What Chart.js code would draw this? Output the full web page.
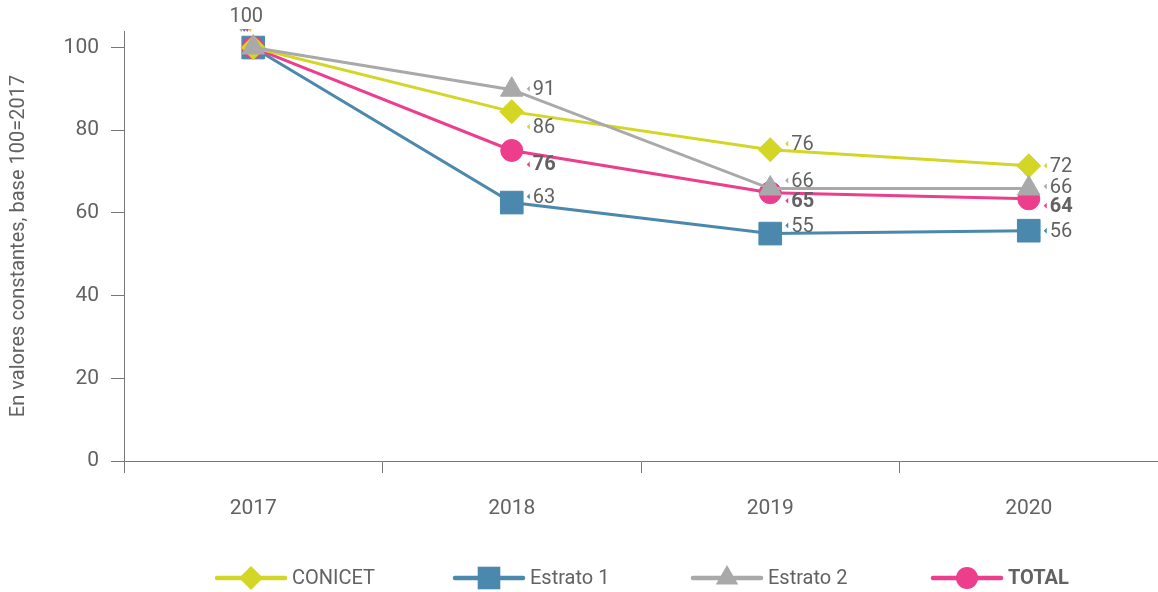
<!DOCTYPE html>
<html><head><meta charset="utf-8">
<script src="https://cdn.jsdelivr.net/npm/chart.js@4/dist/chart.umd.min.js"></script>
<style>html,body{margin:0;padding:0;background:#fff;} #wrap{width:1158px;height:592px;position:relative;}</style>
</head><body><div id="wrap"><canvas id="c" width="1158" height="592"></canvas></div>
<script>
const categories = ['2017', '2018', '2019', '2020'];
const conicet = [100, 84.5, 75.3, 71.4];
const estrato1 = [100, 62.5, 55.0, 55.7];
const estrato2 = [100, 89.8, 65.9, 65.9];
const total = [100, 75.1, 64.9, 63.4];
const conicetLabels = ['100', '86', '76', '72'];
const estrato1Labels = ['100', '63', '55', '56'];
const estrato2Labels = ['100', '91', '66', '66'];
const totalLabels = ['100', '76', '65', '64'];
const yTicks = [0, 20, 40, 60, 80, 100];
const yTitle = 'En valores constantes, base 100=2017';
const seriesNames = ['CONICET', 'Estrato 1', 'Estrato 2', 'TOTAL'];

const FONT = 'Roboto, "DejaVu Sans", sans-serif';
const TEXT = '#626262';
const AXIS = '#777';
const W = '400';
const colors = ['#d3d624', '#4a88ad', '#a9a9a9', '#ec3e8c'];
const pointStyles = ['rectRot', 'rect', 'triangle', 'circle'];
const pointRadii = [12, 16, 13, 11];
const drawOrder = [1, 3, 0, 2];
const labelOffsets = [[0, 15, -6, 0], [0, -6, -8, 0], [0, -1, -8, -2], [0, 14, 8, 7]];
const labelBold = [false, false, false, true];
const allValues = [conicet, estrato1, estrato2, total];
const allLabels = [conicetLabels, estrato1Labels, estrato2Labels, totalLabels];

const datasets = seriesNames.map((name, i) => ({
  label: name,
  data: allValues[i],
  borderColor: colors[i],
  backgroundColor: colors[i],
  borderWidth: 3,
  tension: 0,
  pointStyle: pointStyles[i],
  pointRadius: pointRadii[i],
  pointHoverRadius: pointRadii[i],
  pointBackgroundColor: colors[i],
  pointBorderColor: colors[i],
  pointBorderWidth: 1,
  order: drawOrder[i]
}));

const labelPlugin = {
  id: 'valueLabels',
  afterDatasetsDraw(chart) {
    const ctx = chart.ctx;
    ctx.save();
    ctx.textBaseline = 'middle';
    const m0 = chart.getDatasetMeta(0).data[0];
    ctx.font = W + ' 20px ' + FONT;
    ctx.fillStyle = TEXT;
    ctx.textAlign = 'center';
    ctx.fillText(allLabels[0][0], m0.x - 7, 17);
    [2, 1, 3, 0].forEach((ci, k) => {
      const px = m0.x - 12 + k * 3;
      ctx.beginPath();
      ctx.moveTo(px - 2, 29);
      ctx.lineTo(px + 2, 29);
      ctx.lineTo(px, 32);
      ctx.closePath();
      ctx.fillStyle = colors[ci];
      ctx.fill();
    });
    ctx.textAlign = 'left';
    for (let d = 0; d < allLabels.length; d++) {
      const meta = chart.getDatasetMeta(d);
      for (let i = 1; i < allLabels[d].length; i++) {
        const p = meta.data[i];
        const x = p.x + 21;
        const y = p.y + labelOffsets[d][i];
        ctx.beginPath();
        ctx.moveTo(x - 6, y);
        ctx.lineTo(x - 3, y - 3);
        ctx.lineTo(x - 3, y + 3);
        ctx.closePath();
        ctx.fillStyle = colors[d];
        ctx.fill();
        ctx.font = (labelBold[d] ? 'bold ' : W + ' ') + '20px ' + FONT;
        ctx.fillStyle = TEXT;
        ctx.fillText(allLabels[d][i], x, y + 1);
      }
    }
    ctx.restore();
  }
};

const legendPositions = [217, 455, 693, 933];
function drawMarker(ctx, style, x, y, r, color) {
  ctx.fillStyle = color;
  ctx.beginPath();
  if (style === 'circle') {
    ctx.arc(x, y, r, 0, Math.PI * 2);
  } else if (style === 'rect') {
    const s = r * Math.SQRT1_2;
    ctx.rect(x - s, y - s, 2 * s, 2 * s);
  } else if (style === 'rectRot') {
    ctx.moveTo(x, y - r); ctx.lineTo(x + r, y); ctx.lineTo(x, y + r); ctx.lineTo(x - r, y);
  } else if (style === 'triangle') {
    ctx.moveTo(x, y - r);
    ctx.lineTo(x + r * Math.sin(2 * Math.PI / 3), y + r / 2);
    ctx.lineTo(x - r * Math.sin(2 * Math.PI / 3), y + r / 2);
  }
  ctx.closePath();
  ctx.fill();
}
const legendPlugin = {
  id: 'customLegend',
  afterDraw(chart) {
    const ctx = chart.ctx;
    const y = 578;
    ctx.save();
    seriesNames.forEach((name, i) => {
      const x0 = legendPositions[i];
      ctx.strokeStyle = colors[i];
      ctx.lineWidth = 4.5;
      ctx.lineCap = 'round';
      ctx.beginPath();
      ctx.moveTo(x0, y);
      ctx.lineTo(x0 + 68, y);
      ctx.stroke();
      drawMarker(ctx, pointStyles[i], x0 + 34, y, pointRadii[i], colors[i]);
      ctx.font = (labelBold[i] ? 'bold ' : W + ' ') + '20px ' + FONT;
      ctx.fillStyle = TEXT;
      ctx.textAlign = 'left';
      ctx.textBaseline = 'middle';
      ctx.fillText(name, x0 + 75, y + 1);
    });
    ctx.restore();
  }
};

new Chart(document.getElementById('c'), {
  type: 'line',
  data: { labels: categories, datasets: datasets },
  options: {
    responsive: false,
    animation: false,
    devicePixelRatio: 1,
    layout: { autoPadding: false, padding: { top: 31, bottom: 71, left: 0, right: 0 } },
    plugins: { legend: { display: false }, tooltip: { enabled: false } },
    scales: {
      x: {
        type: 'category',
        offset: true,
        afterFit(scale) { scale.height = 60; },
        grid: { offset: true, drawOnChartArea: false, drawTicks: true, tickLength: 12, color: AXIS, lineWidth: 1 },
        border: { display: true, color: AXIS, width: 1 },
        ticks: { padding: 23, color: TEXT, font: { family: FONT, size: 21, weight: W } }
      },
      y: {
        min: 0,
        max: 104,
        afterFit(scale) { scale.width = 124; },
        afterBuildTicks(scale) { scale.ticks = yTicks.map(v => ({ value: v })); },
        grid: { drawOnChartArea: false, drawTicks: true, tickLength: 13, color: AXIS, lineWidth: 1 },
        border: { display: true, color: AXIS, width: 1 },
        ticks: { padding: 12, color: TEXT, font: { family: FONT, size: 21, weight: W } },
        title: { display: true, text: yTitle, color: TEXT, font: { family: FONT, size: 20, weight: W }, padding: { top: 7, bottom: 0 } }
      }
    }
  },
  plugins: [labelPlugin, legendPlugin]
});
</script>
</body></html>
